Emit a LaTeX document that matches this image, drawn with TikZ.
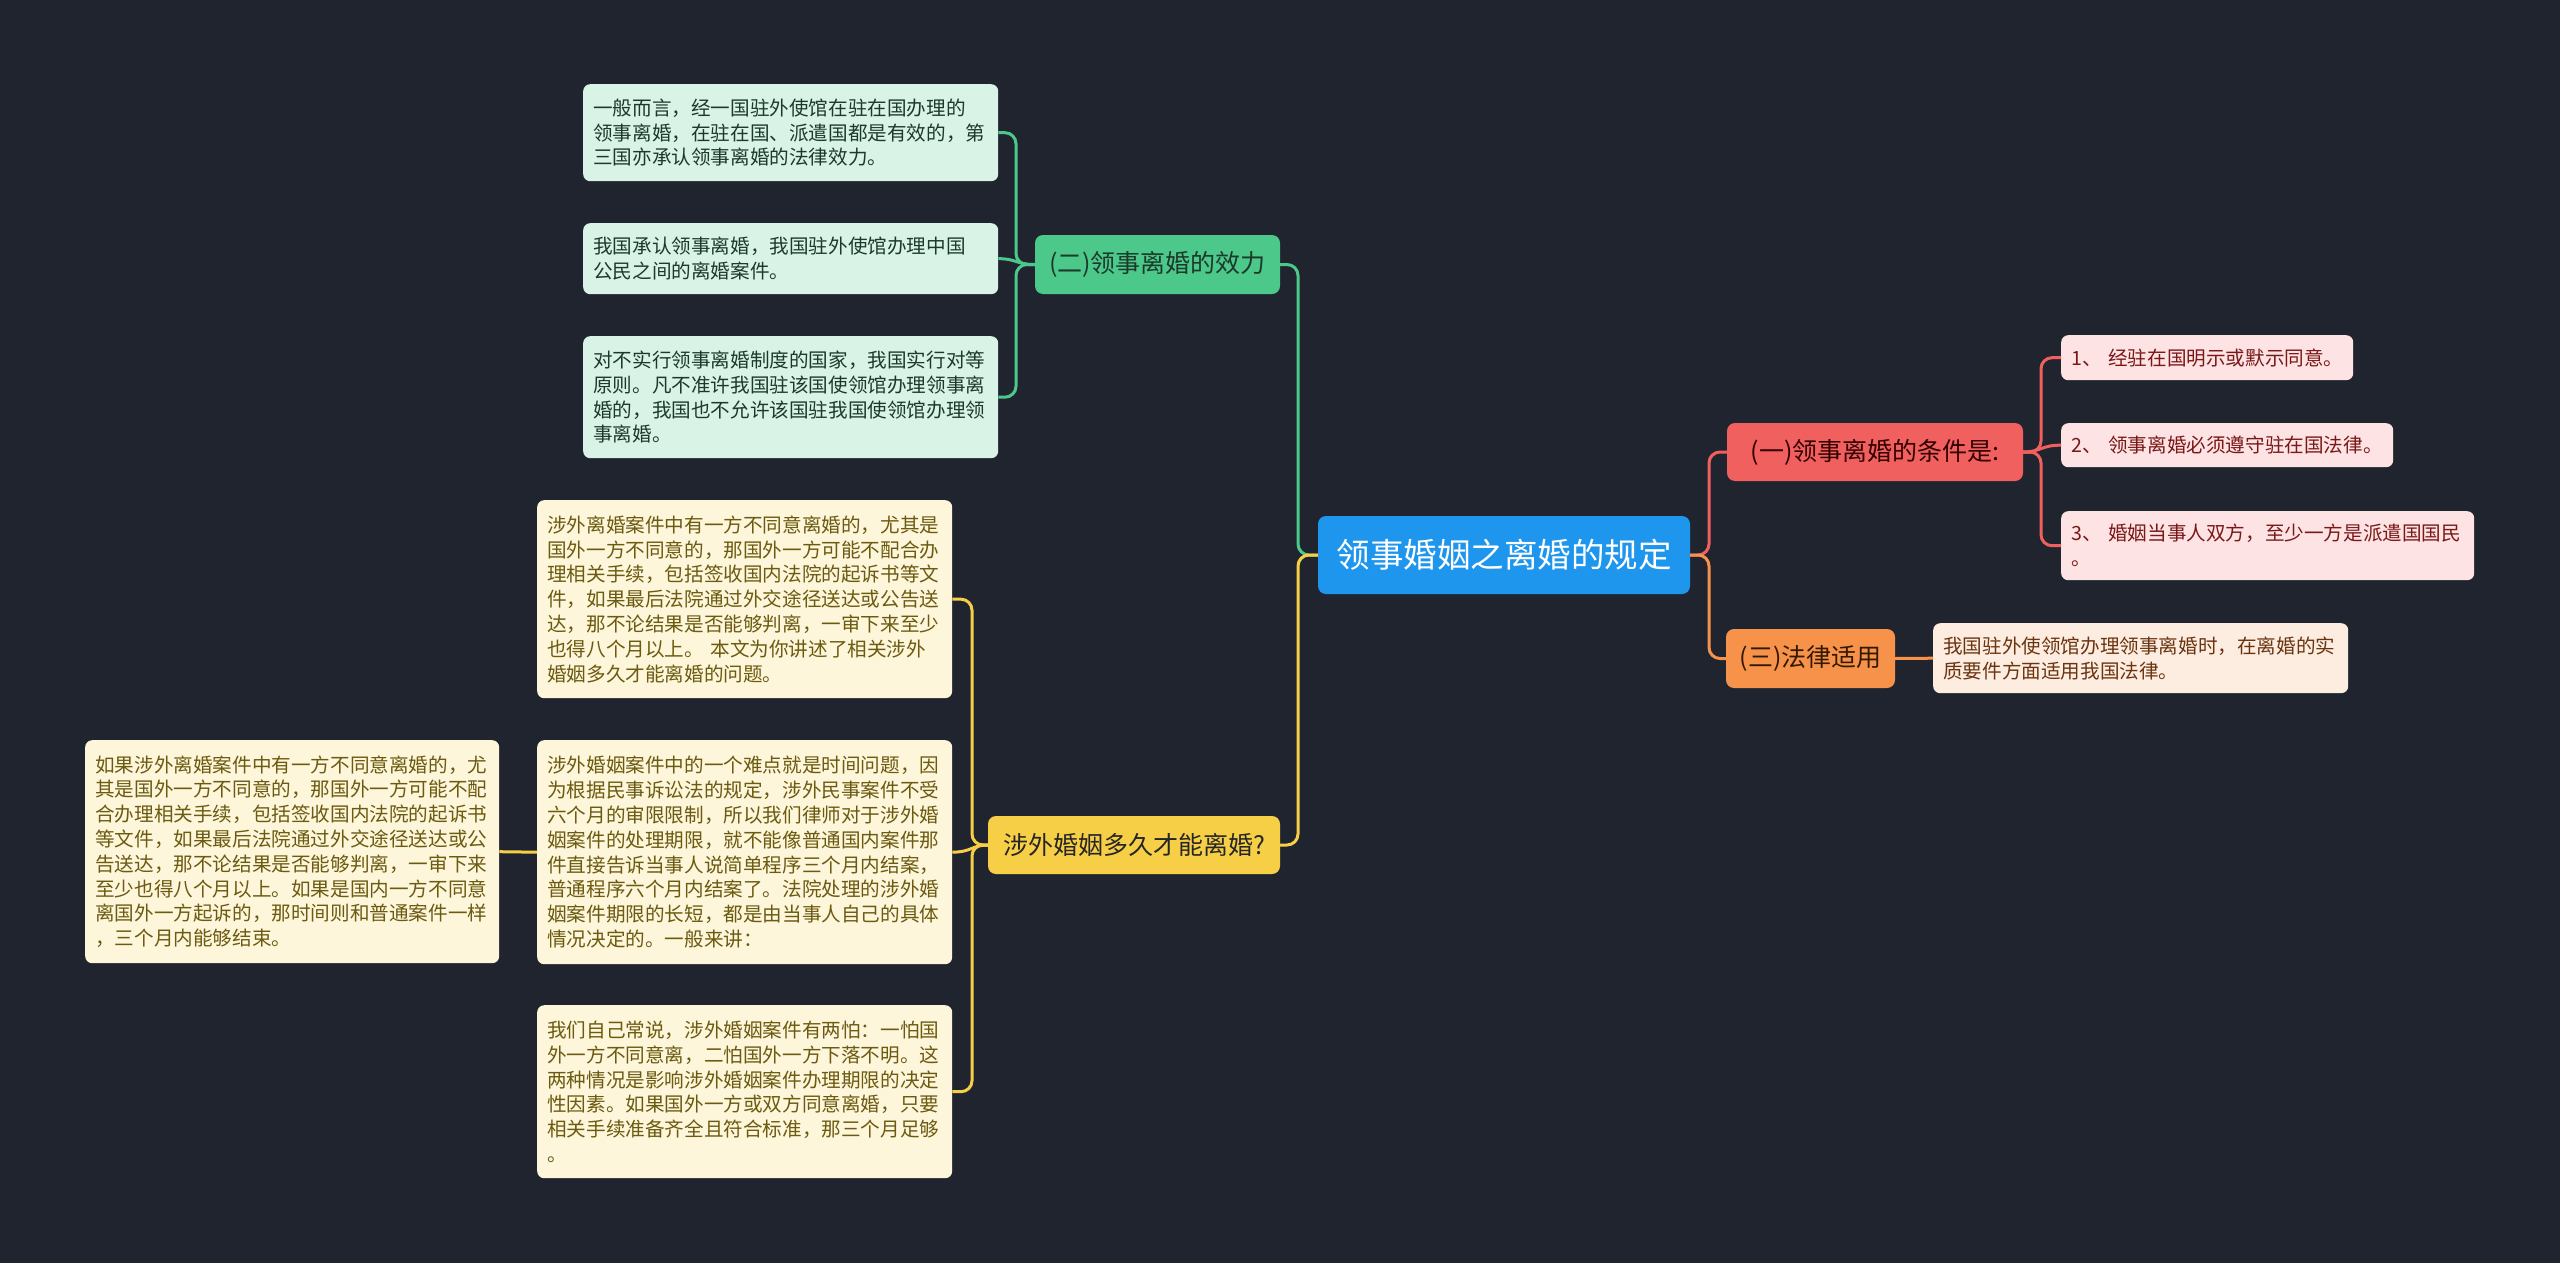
\documentclass[tikz,border=0pt]{standalone}
\usepackage{fontspec}
\setmainfont{Noto Sans CJK SC}
\definecolor{bgc}{HTML}{20242F}
\definecolor{rootc}{HTML}{1E96EE}
\definecolor{gmain}{HTML}{4CC88A}
\definecolor{gleafc}{HTML}{D9F3E6}
\definecolor{gtext}{HTML}{1C3A2B}
\definecolor{ymain}{HTML}{F7CF47}
\definecolor{yleafc}{HTML}{FDF6DA}
\definecolor{ytext}{HTML}{6B5A10}
\definecolor{rmain}{HTML}{F0605E}
\definecolor{rleafc}{HTML}{FDE3E3}
\definecolor{rtext}{HTML}{7A1818}
\definecolor{omain}{HTML}{F7924B}
\definecolor{oleafc}{HTML}{FDEDE1}
\definecolor{otext}{HTML}{6B3410}
\tikzset{
  mainbox/.style={rounded corners=8pt, inner sep=0pt, align=center, anchor=center,
    font=\fontsize{25pt}{30pt}\selectfont},
  leafbox/.style={rounded corners=7pt, inner xsep=10pt, inner ysep=0pt, align=left,
    anchor=north west, font=\fontsize{19.6pt}{24.8pt}\selectfont},
  gleaf/.style={leafbox, fill=gleafc, text=gtext},
  yleaf/.style={leafbox, fill=yleafc, text=ytext},
  rleaf/.style={leafbox, fill=rleafc, text=rtext},
  oleaf/.style={leafbox, fill=oleafc, text=otext},
  conn/.style={line width=3pt, rounded corners=11pt},
  gline/.style={conn, draw=gmain},
  yline/.style={conn, draw=ymain},
  rline/.style={conn, draw=rmain},
  oline/.style={conn, draw=omain},
}
\begin{document}
\begin{tikzpicture}[x=1pt,y=-1pt]
\useasboundingbox (0,0) rectangle (2560,1263);
\fill[bgc] (0,0) rectangle (2560,1263);

% main nodes
\node[mainbox, fill=rootc, text=white, minimum width=372pt, minimum height=78pt,
  font=\fontsize{33.5pt}{38pt}\selectfont] (root) at (1504,555) {领事婚姻之离婚的规定};
\node[mainbox, fill=gmain, text=gtext, minimum width=245pt, minimum height=59pt] (g) at (1157.5,264.5) {(二)领事离婚的效力};
\node[mainbox, fill=ymain, text=black!85, minimum width=292pt, minimum height=58pt] (y) at (1134,845) {涉外婚姻多久才能离婚?};
\node[mainbox, fill=rmain, text=black!80!red, minimum width=296pt, minimum height=58pt] (r) at (1875,452) {(一)领事离婚的条件是:};
\node[mainbox, fill=omain, text=black!80!orange, minimum width=169pt, minimum height=59pt] (o) at (1810.5,658.5) {(三)法律适用};

% green leaves
\node[gleaf, text width=395pt, minimum height=97pt] (g1) at (583,84) {一般而言，经一国驻外使馆在驻在国办理的\\领事离婚，在驻在国、派遣国都是有效的，第\\三国亦承认领事离婚的法律效力。};
\node[gleaf, text width=395pt, minimum height=71pt] (g2) at (583,223) {我国承认领事离婚，我国驻外使馆办理中国\\公民之间的离婚案件。};
\node[gleaf, text width=395pt, minimum height=122pt] (g3) at (583,336) {对不实行领事离婚制度的国家，我国实行对等\\原则。凡不准许我国驻该国使领馆办理领事离\\婚的，我国也不允许该国驻我国使领馆办理领\\事离婚。};

% yellow leaves
\node[yleaf, text width=395pt, minimum height=198pt] (y1) at (537,500) {涉外离婚案件中有一方不同意离婚的，尤其是\\国外一方不同意的，那国外一方可能不配合办\\理相关手续，包括签收国内法院的起诉书等文\\件，如果最后法院通过外交途径送达或公告送\\达，那不论结果是否能够判离，一审下来至少\\也得八个月以上。~本文为你讲述了相关涉外\\婚姻多久才能离婚的问题。};
\node[yleaf, text width=395pt, minimum height=224pt] (y2) at (537,740) {涉外婚姻案件中的一个难点就是时间问题，因\\为根据民事诉讼法的规定，涉外民事案件不受\\六个月的审限限制，所以我们律师对于涉外婚\\姻案件的处理期限，就不能像普通国内案件那\\件直接告诉当事人说简单程序三个月内结案，\\普通程序六个月内结案了。法院处理的涉外婚\\姻案件期限的长短，都是由当事人自己的具体\\情况决定的。一般来讲：};
\node[yleaf, text width=395pt, minimum height=173pt] (y3) at (537,1005) {我们自己常说，涉外婚姻案件有两怕：一怕国\\外一方不同意离，二怕国外一方下落不明。这\\两种情况是影响涉外婚姻案件办理期限的决定\\性因素。如果国外一方或双方同意离婚，只要\\相关手续准备齐全且符合标准，那三个月足够\\。};
\node[yleaf, text width=394pt, minimum height=223pt] (yl) at (85,740) {如果涉外离婚案件中有一方不同意离婚的，尤\\其是国外一方不同意的，那国外一方可能不配\\合办理相关手续，包括签收国内法院的起诉书\\等文件，如果最后法院通过外交途径送达或公\\告送达，那不论结果是否能够判离，一审下来\\至少也得八个月以上。如果是国内一方不同意\\离国外一方起诉的，那时间则和普通案件一样\\，三个月内能够结束。};

% red leaves
\node[rleaf, text width=272pt, minimum height=45pt] (r1) at (2061,335) {1、~经驻在国明示或默示同意。};
\node[rleaf, text width=312pt, minimum height=44pt] (r2) at (2061,423) {2、~领事离婚必须遵守驻在国法律。};
\node[rleaf, text width=393pt, minimum height=69pt] (r3) at (2061,511) {3、~婚姻当事人双方，至少一方是派遣国国民\\。};

% orange leaf
\node[oleaf, text width=395pt, minimum height=70pt] (o1) at (1933,623) {我国驻外使领馆办理领事离婚时，在离婚的实\\质要件方面适用我国法律。};

% junctions
\coordinate (lj) at (1298,555);
\coordinate (rj) at (1709,555);
\coordinate (gj) at (1016,264.5);
\coordinate (gj2) at (1016,258.5);
\coordinate (yj) at (972,845);
\coordinate (yj2) at (972,852);
\coordinate (rrj) at (2041,452);
\coordinate (rrj2) at (2041,445);

% connectors root
\draw[gline] (root.west) -- (lj) |- (g.east);
\draw[yline] (root.west) -- (lj) |- (y.east);
\draw[rline] (root.east) -- (rj) |- (r.west);
\draw[oline] (root.east) -- (rj) |- (o.west);

% green
\draw[gline] (g.west) -- (gj) |- (g1.east);
\draw[gline] (g.west) .. controls (gj) and (gj2) .. (g2.east);
\draw[gline] (g.west) -- (gj) |- (g3.east);

% yellow
\draw[yline] (y.west) -- (yj) |- (y1.east);
\draw[yline] (y.west) .. controls (yj) and (yj2) .. (y2.east);
\draw[yline] (y.west) -- (yj) |- (y3.east);
\draw[yline] (y2.west) -- (yl.east);

% red
\draw[rline] (r.east) -- (rrj) |- (r1.west);
\draw[rline] (r.east) .. controls (rrj) and (rrj2) .. (r2.west);
\draw[rline] (r.east) -- (rrj) |- (r3.west);

% orange
\draw[oline] (o.east) -- (o1.west);
\end{tikzpicture}
\end{document}
